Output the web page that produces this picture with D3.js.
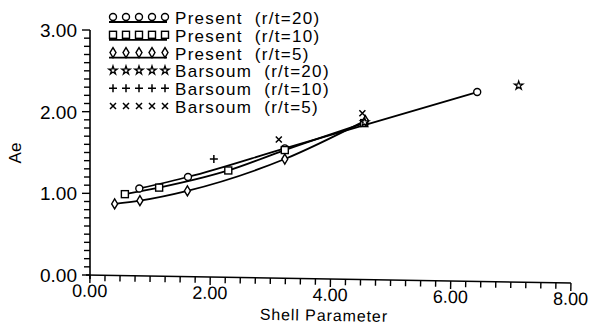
<!DOCTYPE html>
<meta charset="utf-8">
<script src="https://d3js.org/d3.v7.min.js"></script>
<style>
  body { margin: 0; background: #fff; }
  text { font-family: "Liberation Sans", Arial, sans-serif; fill: #000; }
</style>
<div id="chart"></div>
<script>
// values
var xTicks = [0, 2, 4, 6, 8];
var yTicks = [0, 1, 2, 3];

var present20x = [0.82, 1.63, 3.24, 6.44];
var present20y = [1.06, 1.20, 1.55, 2.24];
var present10x = [0.58, 1.15, 2.30, 3.24, 4.56];
var present10y = [0.99, 1.07, 1.28, 1.53, 1.86];
var present5x  = [0.41, 0.83, 1.62, 3.24, 4.58];
var present5y  = [0.87, 0.91, 1.03, 1.42, 1.89];
var barsoum20x = [4.57, 7.13];
var barsoum20y = [1.87, 2.32];
var barsoum10x = [2.06];
var barsoum10y = [1.42];
var barsoum5x  = [3.14, 4.53];
var barsoum5y  = [1.66, 1.98];

var legendLabels = ["Present  (r/t=20)", "Present  (r/t=10)", "Present  (r/t=5)",
                    "Barsoum  (r/t=20)", "Barsoum  (r/t=10)", "Barsoum  (r/t=5)"];

var W = 589, H = 324;
var x = d3.scaleLinear().domain([0, 8]).range([90, 571]);
var y = d3.scaleLinear().domain([0, 3]).range([275, 30]);

var svg = d3.select("#chart").append("svg")
    .attr("width", W).attr("height", H)
    .style("background", "#fff");

function zip(xs, ys) { return xs.map(function(v, i) { return [v, ys[i]]; }); }

// marker drawing helpers
function marker(g, kind, cx, cy) {
  var m = g.append("g").attr("transform", "translate(" + cx + "," + cy + ")");
  if (kind == "circle") {
    m.append("circle").attr("r", 3.5).attr("fill", "#fff").attr("stroke", "#000").attr("stroke-width", 1.4);
  } else if (kind == "square") {
    m.append("rect").attr("x", -3.5).attr("y", -3.5).attr("width", 7).attr("height", 7)
      .attr("fill", "#fff").attr("stroke", "#000").attr("stroke-width", 1.4);
  } else if (kind == "diamond") {
    m.append("path").attr("d", "M0,-5L3,0L0,5L-3,0Z")
      .attr("fill", "#fff").attr("stroke", "#000").attr("stroke-width", 1.4);
  } else if (kind == "star") {
    m.append("path").attr("d", d3.symbol().type(d3.symbolStar).size(22)())
      .attr("fill", "#fff").attr("stroke", "#000").attr("stroke-width", 1.3);
  } else if (kind == "plus") {
    m.append("path").attr("d", "M-4,0H4M0,-4V4").attr("stroke", "#000").attr("stroke-width", 1.5);
  } else if (kind == "cross") {
    m.append("path").attr("d", "M-3,-3L3,3M-3,3L3,-3").attr("stroke", "#000").attr("stroke-width", 1.5);
  }
}

// axes (the x axis in the scan leans down a little to the right)
var xAxis = svg.append("g")
    .attr("transform", "translate(0,275) rotate(0.95,90,0)");
xAxis.append("line").attr("x1", 86).attr("x2", x(8)).attr("y1", 0).attr("y2", 0)
    .attr("stroke", "#000").attr("stroke-width", 1.6);
xAxis.selectAll(".mt").data(d3.range(0, 8.001, 0.25)).enter().append("line")
    .attr("x1", function(d) { return x(d); }).attr("x2", function(d) { return x(d); })
    .attr("y1", 0).attr("y2", function(d) { return d % 2 == 0 ? 8 : 6; })
    .attr("stroke", "#000").attr("stroke-width", 1.4);
xAxis.selectAll(".xl").data(xTicks).enter().append("text")
    .attr("x", function(d) { return x(d); }).attr("y", 22)
    .attr("text-anchor", "middle").attr("font-size", 18)
    .text(function(d) { return d3.format(".2f")(d); });
xAxis.append("text").attr("x", x(4) - 6).attr("y", 42)
    .attr("text-anchor", "middle").attr("font-size", 16).attr("letter-spacing", 0.9)
    .text("Shell Parameter");

var yAxis = svg.append("g");
yAxis.append("line").attr("x1", 90).attr("x2", 90).attr("y1", y(3)).attr("y2", 279)
    .attr("stroke", "#000").attr("stroke-width", 1.6);
yAxis.selectAll(".mt").data(d3.range(0, 3.001, 0.1)).enter().append("line")
    .attr("x1", 90).attr("x2", function(d, i) { return i % 10 == 0 ? 82 : 84; })
    .attr("y1", function(d) { return y(d); }).attr("y2", function(d) { return y(d); })
    .attr("stroke", "#000").attr("stroke-width", 1.4);
yAxis.selectAll(".yl").data(yTicks).enter().append("text")
    .attr("x", 77).attr("y", function(d) { return y(d) + 7; })
    .attr("text-anchor", "end").attr("font-size", 19)
    .text(function(d) { return d3.format(".2f")(d); });
yAxis.append("text").attr("transform", "translate(21,153) rotate(-90)")
    .attr("text-anchor", "middle").attr("font-size", 17).text("Ae");

// curves
var line = d3.line().x(function(d) { return x(d[0]); }).y(function(d) { return y(d[1]); })
    .curve(d3.curveMonotoneX);

var present = [
  {pts: zip(present20x, present20y), kind: "circle"},
  {pts: zip(present10x, present10y), kind: "square"},
  {pts: zip(present5x, present5y), kind: "diamond"}
];
var barsoum = [
  {pts: zip(barsoum20x, barsoum20y), kind: "star"},
  {pts: zip(barsoum10x, barsoum10y), kind: "plus"},
  {pts: zip(barsoum5x, barsoum5y), kind: "cross"}
];

var plot = svg.append("g");
present.forEach(function(s) {
  plot.append("path").attr("d", line(s.pts)).attr("fill", "none")
    .attr("stroke", "#000").attr("stroke-width", 1.8);
});
present.concat(barsoum).forEach(function(s) {
  s.pts.forEach(function(p) { marker(plot, s.kind, x(p[0]), y(p[1])); });
});

// legend
var kinds = ["circle", "square", "diamond", "star", "plus", "cross"];
var leg = svg.append("g");
kinds.forEach(function(k, i) {
  var ry = 18 + i * 17.8;
  if (i < 3) {
    leg.append("line").attr("x1", 109).attr("x2", 167).attr("y1", ry + 4).attr("y2", ry + 4)
      .attr("stroke", "#000").attr("stroke-width", 1.8);
  }
  for (var j = 0; j < 5; j++) marker(leg, k, 113 + j * 13, ry - 1);
  leg.append("text").attr("x", 175).attr("y", ry + 6)
    .attr("font-size", 17).attr("letter-spacing", 1.3).style("white-space", "pre")
    .text(legendLabels[i]);
});
</script>
